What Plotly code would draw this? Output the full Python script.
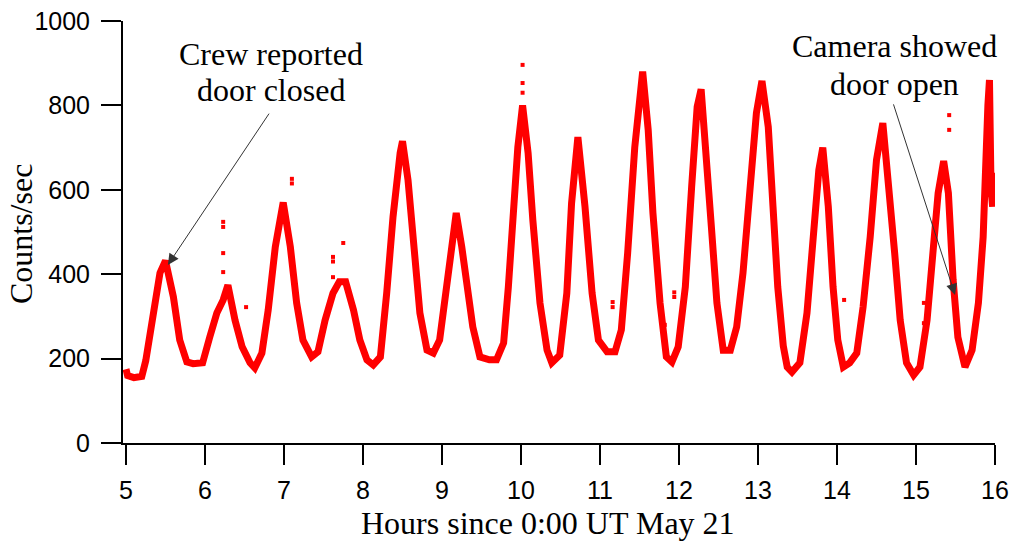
import plotly.graph_objects as go

# Main time series
hours = [5.00, 5.02, 5.10, 5.20, 5.25, 5.34, 5.43, 5.50, 5.60, 5.68, 5.77, 5.85, 5.97,
         6.06, 6.15, 6.23, 6.29, 6.38, 6.47, 6.57, 6.63, 6.72, 6.80, 6.89, 6.99,
         7.08, 7.16, 7.24, 7.35, 7.43, 7.52, 7.62, 7.70, 7.78, 7.88, 7.96,
         8.05, 8.13, 8.22, 8.30, 8.38, 8.47, 8.50, 8.57, 8.64, 8.72, 8.81, 8.89, 8.97,
         9.06, 9.14, 9.18, 9.25, 9.31, 9.39, 9.48, 9.60, 9.69, 9.78, 9.84, 9.90, 9.96,
         10.02, 10.09, 10.15, 10.24, 10.33, 10.39, 10.49, 10.58, 10.64, 10.72, 10.81,
         10.90, 10.98, 11.09, 11.19, 11.27, 11.35, 11.44, 11.54, 11.61, 11.67, 11.76,
         11.84, 11.91, 11.99, 12.08, 12.16, 12.23, 12.28, 12.35, 12.41, 12.48, 12.56,
         12.65, 12.73, 12.81, 12.90, 12.98, 13.05, 13.13, 13.19, 13.25, 13.32, 13.37,
         13.43, 13.53, 13.62, 13.70, 13.77, 13.82, 13.89, 13.95, 14.01, 14.08, 14.16,
         14.25, 14.33, 14.42, 14.50, 14.58, 14.67, 14.73, 14.80, 14.88, 14.97, 15.05,
         15.14, 15.20, 15.28, 15.35, 15.41, 15.47, 15.53, 15.62, 15.71, 15.79, 15.85,
         15.91, 15.93, 15.95, 15.97, 15.99, 16.00]
counts = [175, 160, 155, 158, 195, 308, 403, 432, 346, 244, 192, 188, 190,
          251, 308, 339, 374, 291, 228, 190, 178, 213, 315, 465, 570,
          465, 332, 244, 204, 216, 291, 355, 382, 382, 315, 244,
          197, 185, 204, 355, 536, 687, 715, 623, 481, 308, 220, 213, 244,
          370, 512, 545, 465, 379, 275, 204, 197, 197, 237, 370, 528, 701,
          800, 687, 528, 332, 220, 190, 208, 355, 568, 725, 560,
          355, 244, 216, 216, 268, 450, 701, 880, 742, 545, 332,
          204, 192, 228, 370, 607, 797, 838, 687, 512, 332, 220,
          220, 275, 403, 592, 782, 858, 749, 560, 370, 230, 180,
          168, 190, 308, 488, 647, 700, 560, 370, 244, 180, 190,
          213, 322, 488, 671, 758, 592, 450, 291, 190, 161, 180,
          291, 434, 592, 668, 592, 386, 251, 180, 220, 332, 488,
          800, 860, 600, 560, 640, 600]

# Isolated outlier points
out_hours = [6.23, 6.23, 6.23, 6.23, 6.52, 7.10, 7.10, 7.62, 7.62, 7.62, 7.75,
             10.02, 10.02, 10.02, 11.16, 11.16, 11.82, 11.94, 11.94, 14.09,
             15.10, 15.10, 15.10, 15.42, 15.42]
out_counts = [524, 512, 450, 405, 322, 626, 615, 441, 430, 393, 474,
              896, 853, 830, 334, 322, 280, 357, 346, 339,
              332, 284, 244, 777, 742]

xticks = [5, 6, 7, 8, 9, 10, 11, 12, 13, 14, 15, 16]
yticks = [0, 200, 400, 600, 800, 1000]

fig = go.Figure()
fig.add_trace(go.Scatter(x=hours, y=counts, mode="lines",
                         line=dict(color="#ff0000", width=7), showlegend=False))
fig.add_trace(go.Scatter(x=out_hours, y=out_counts, mode="markers",
                         marker=dict(color="#ff0000", size=4, symbol="square"),
                         showlegend=False))

serif = "Liberation Serif"
sans = "Liberation Sans"

fig.update_layout(
    width=1012, height=542,
    margin=dict(l=123, r=17, t=21, b=99),
    paper_bgcolor="white", plot_bgcolor="white",
    xaxis=dict(range=[4.962, 16], tickvals=xticks, ticktext=[str(v) for v in xticks],
               ticks="outside", ticklen=20, tickwidth=2, tickcolor="black",
               showline=True, linecolor="black", linewidth=2,
               showgrid=False, zeroline=False, automargin=False,
               ticklabelstandoff=4,
               tickfont=dict(family=sans, size=25, color="black")),
    yaxis=dict(range=[0, 1000], tickvals=yticks, ticktext=[str(v) for v in yticks],
               ticks="outside", ticklen=20, tickwidth=2, tickcolor="black",
               showline=True, linecolor="black", linewidth=2,
               showgrid=False, zeroline=False, ticklabelstandoff=6, automargin=False,
               tickfont=dict(family=sans, size=25, color="black")),
)

tfont = dict(family=serif, size=32, color="black")
annotations = [
    dict(text="Hours since 0:00 UT May 21", xref="paper", yref="paper",
         x=0.487, y=-0.19, xanchor="center", yanchor="middle", showarrow=False, font=tfont),
    dict(text="Counts/sec", xref="paper", yref="paper", textangle=-90,
         x=-0.117, y=0.495, xanchor="center", yanchor="middle", showarrow=False, font=tfont),
    dict(text="Crew reported", xref="x", yref="y", x=6.835, y=922,
         xanchor="center", yanchor="middle", showarrow=False, font=tfont),
    dict(text="door closed", xref="x", yref="y", x=6.835, y=837,
         xanchor="center", yanchor="middle", showarrow=False, font=tfont),
    dict(text="Camera showed", xref="x", yref="y", x=14.734, y=941,
         xanchor="center", yanchor="middle", showarrow=False, font=tfont),
    dict(text="door open", xref="x", yref="y", x=14.734, y=851,
         xanchor="center", yanchor="middle", showarrow=False, font=tfont),
    dict(text="", xref="x", yref="y", x=5.53, y=422, axref="x", ayref="y",
         ax=6.823, ay=784, showarrow=True, arrowhead=2, arrowsize=2.2,
         arrowwidth=1, arrowcolor="#333333"),
    dict(text="", xref="x", yref="y", x=15.494, y=351, axref="x", ayref="y",
         ax=14.709, ay=806, showarrow=True, arrowhead=2, arrowsize=2.2,
         arrowwidth=1, arrowcolor="#333333"),
]
fig.update_layout(annotations=annotations)

fig.write_html("out.html")
